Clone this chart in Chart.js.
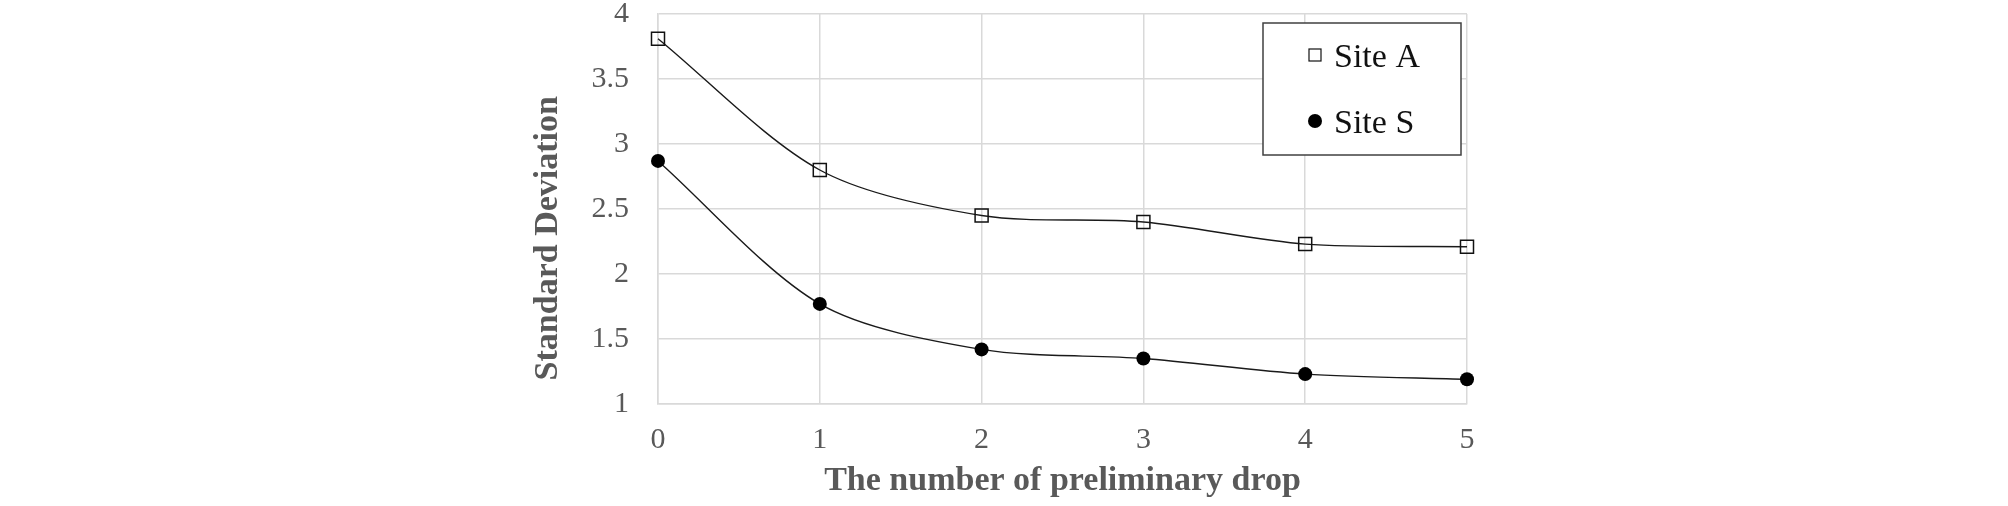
<!DOCTYPE html>
<html>
<head>
<meta charset="utf-8">
<script src="https://cdn.jsdelivr.net/npm/chart.js@4"></script>
<style>
  html, body { margin: 0; padding: 0; background: #fff; }
</style>
</head>
<body>
<canvas id="sd_plot" width="2008" height="506"></canvas>
<script>
// number of preliminary drops (x categories)
const drops = ["0", "1", "2", "3", "4", "5"];
// standard deviation
const siteA = [3.81, 2.80, 2.45, 2.40, 2.23, 2.21];
const siteS = [2.87, 1.77, 1.42, 1.35, 1.23, 1.19];
const seriesNames = ["Site A", "Site S"];
const yTitle = "Standard Deviation";
const xTitle = "The number of preliminary drop";

const serif = "'Liberation Serif', 'Times New Roman', serif";
const gray = "#595959";
const gridColor = "#d9d9d9";

// boxed legend in the upper right corner + y axis title (sits a bit low like the original)
const extras = {
    id: "extras",
    afterDraw(chart) {
        const ctx = chart.ctx;
        const area = chart.chartArea;
        ctx.save();

        // y title
        ctx.font = "bold 34px " + serif;
        ctx.fillStyle = gray;
        ctx.translate(area.left - 101, area.top + area.height * 0.575);
        ctx.rotate(-Math.PI / 2);
        ctx.textAlign = "center";
        ctx.textBaseline = "alphabetic";
        ctx.fillText(yTitle, 0, 0);
        ctx.setTransform(1, 0, 0, 1, 0, 0);

        // legend box
        const w = 198, h = 132;
        const x0 = area.right - 6 - w, y0 = area.top + 9;
        ctx.fillStyle = "#ffffff";
        ctx.fillRect(x0, y0, w, h);
        ctx.strokeStyle = "#404040";
        ctx.lineWidth = 1.5;
        ctx.strokeRect(x0, y0, w, h);
        ctx.font = "34px " + serif;
        ctx.textAlign = "left";
        ctx.textBaseline = "alphabetic";
        chart.data.datasets.forEach((ds, i) => {
            const cy = y0 + 32 + i * 66;
            const mx = x0 + 52;
            ctx.lineWidth = 1.2;
            if (ds.pointStyle === "rect") {
                ctx.fillStyle = "#ffffff";
                ctx.strokeStyle = "#111";
                ctx.fillRect(mx - 6, cy - 6, 12, 12);
                ctx.strokeRect(mx - 6, cy - 6, 12, 12);
            } else {
                ctx.fillStyle = "#000";
                ctx.beginPath();
                ctx.arc(mx, cy, 7, 0, Math.PI * 2);
                ctx.fill();
            }
            ctx.fillStyle = "#111";
            ctx.fillText(ds.label, x0 + 71, cy + 12);
        });
        ctx.restore();
    }
};

new Chart(document.getElementById("sd_plot"), {
    type: "line",
    data: {
        labels: drops,
        datasets: [
            {
                label: seriesNames[0],
                data: siteA,
                borderColor: "#1a1a1a",
                borderWidth: 1.4,
                pointStyle: "rect",
                pointRadius: 9.2,
                pointBorderWidth: 1.5,
                pointBorderColor: "#111",
                pointBackgroundColor: "rgba(255,255,255,0)",
                tension: 0.3,
                fill: false
            },
            {
                label: seriesNames[1],
                data: siteS,
                borderColor: "#1a1a1a",
                borderWidth: 1.4,
                pointStyle: "circle",
                pointRadius: 7,
                pointBorderWidth: 0,
                pointBackgroundColor: "#000",
                tension: 0.3,
                fill: false
            }
        ]
    },
    options: {
        responsive: false,
        animation: false,
        layout: { padding: { left: 520, right: 541, top: 14, bottom: 0 } },
        plugins: {
            legend: { display: false },
            tooltip: { enabled: false }
        },
        scales: {
            x: {
                grid: { color: gridColor, lineWidth: 1.5, drawTicks: false },
                border: { color: gridColor, width: 1.5 },
                ticks: { color: gray, font: { family: serif, size: 30 }, padding: 18, maxRotation: 0 },
                title: {
                    display: true,
                    text: xTitle,
                    color: gray,
                    font: { family: serif, size: 34, weight: "bold" },
                    padding: { top: 0, bottom: 4 }
                },
                afterFit(scale) { scale.height = 102; }
            },
            y: {
                min: 1,
                max: 4,
                grid: { color: gridColor, lineWidth: 1.5, drawTicks: false },
                border: { color: gridColor, width: 1.5 },
                ticks: {
                    stepSize: 0.5,
                    color: gray,
                    font: { family: serif, size: 30 },
                    padding: 29,
                    callback: (v) => String(v)
                },
                afterFit(scale) {
                    scale.width = 138;
                    scale.paddingTop = 0;
                    scale.paddingBottom = 0;
                }
            }
        }
    },
    plugins: [extras]
});
</script>
</body>
</html>
